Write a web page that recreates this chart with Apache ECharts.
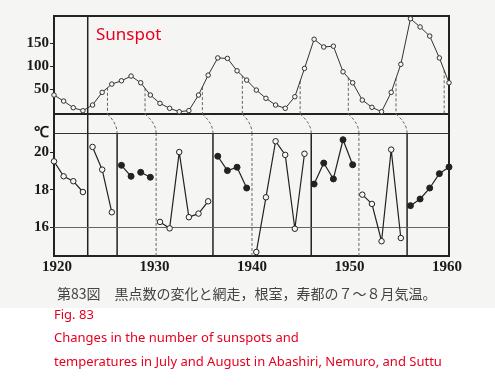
<!DOCTYPE html>
<html><head><meta charset="utf-8">
<script src="https://cdn.jsdelivr.net/npm/echarts@6/dist/echarts.min.js"></script>
<style>html,body{margin:0;padding:0;background:#fff}#c{width:495px;height:391px}</style>
</head><body><div id="c"></div>
<script>
// ---- data ----
const years = [1920,1921,1922,1923,1924,1925,1926,1927,1928,1929,1930,1931,1932,1933,1934,1935,1936,1937,1938,1939,1940,1941,1942,1943,1944,1945,1946,1947,1948,1949,1950,1951,1952,1953,1954,1955,1956,1957,1958,1959,1960,1961];
const sunspots = [36.6,23.4,8.8,2.2,14.7,42.5,60.6,67.9,78.2,63.5,36.6,18.4,7.5,0,2.5,36.6,80.3,118,117,89.8,69.4,47.5,29.4,14.7,7.5,32.9,95,159,142,143.8,87.6,63.5,25.6,9.7,0,42.5,104,204,186,166,118,63.5];
const temps = [19.50,18.71,18.45,17.88,20.26,19.06,16.81,19.29,18.71,18.92,18.66,16.30,15.96,19.99,16.55,16.74,17.39,19.77,19.01,19.19,18.09,14.71,17.60,20.56,19.84,15.94,19.90,18.30,19.41,18.57,20.64,19.32,17.74,17.25,15.28,20.12,15.45,17.16,17.51,18.09,18.85,19.20];
const segmentStarts = [1920,1924,1927,1929,1931,1937,1941,1947,1952,1957];
const segmentFilled = [false,false,true,true,false,true,false,true,false,true];
const dividerTop = [1923.5,1925.55,1929.45,1935.4,1939.55,1945.55,1950.55,1955.5,1960.5];
const dividerBottom = [1923.5,1926.55,1930.6,1936.5,1940.55,1946.7,1951.65,1956.65,null];
const dividerDashed = [false,false,true,false,true,false,true,false,true];
const sunspotTicks = [50,100,150];
const tempTicks = [16,18,20];
const yearLabels = [1920,1930,1940,1950,1960];
const caption = '第83図　黒点数の変化と網走，根室，寿都の７～８月気温。';
const redLines = ['Fig. 83','Changes in the number of sunspots and','temperatures in July and August in Abashiri, Nemuro, and Suttu'];

const chart = echarts.init(document.getElementById('c'), null, {renderer:'canvas'});
const ink = '#222';
const numFont = {fontFamily:'Liberation Serif', fontSize:15, fontWeight:'bold', color:'#1a1a1a'};

function interpSun(x){
  const i = Math.floor(x - years[0]);
  const f = x - years[0] - i;
  return sunspots[i] + (sunspots[Math.min(i+1, sunspots.length-1)] - sunspots[i]) * f;
}

const series = [];
// sunspot curve
series.push({
  type:'line', xAxisIndex:0, yAxisIndex:0,
  data: years.map((y,i)=>[y, sunspots[i]]),
  symbol:'circle', symbolSize:4.5, showAllSymbol:true,
  itemStyle:{color:'#f6f6f4', borderColor:'#333', borderWidth:1},
  lineStyle:{color:'#333', width:1}, z:5
});
// temperature segments
segmentStarts.forEach((s, k)=>{
  const e = k < segmentStarts.length-1 ? segmentStarts[k+1] : years[years.length-1]+1;
  const data = [];
  years.forEach((y,i)=>{ if (y>=s && y<e) data.push([y, temps[i]]); });
  const filled = segmentFilled[k];
  series.push({
    type:'line', xAxisIndex:1, yAxisIndex:1, data,
    symbol:'circle', symbolSize: filled ? 6 : 5.5, showAllSymbol:true,
    itemStyle:{color: filled ? '#222' : '#f6f6f4', borderColor:'#222', borderWidth:1},
    lineStyle:{color:'#222', width:1.2}, z:5
  });
});
// dividers
dividerTop.forEach((xt, k)=>{
  const xb = dividerBottom[k];
  const first = k === 0;
  series.push({
    type:'line', xAxisIndex:0, yAxisIndex:0, silent:true, symbol:'none',
    data: [[xt, first ? 210 : interpSun(xt)], [xt, -5]],
    lineStyle:{color: first ? '#222' : '#666', width: first ? 1.5 : 1, type: first ? 'solid' : [3,2]}, z:3
  });
  if (xb === null) return;
  const bend = [];
  for (let i=0;i<=10;i++){
    const t = i/10;
    bend.push([xt + (xb-xt)*(1-(1-t)*(1-t)), 22 - t]);
  }
  series.push({
    type:'line', xAxisIndex:1, yAxisIndex:1, silent:true, symbol:'none', data: bend,
    lineStyle:{color: first ? '#222' : '#666', width: first ? 1.5 : 1, type: first ? 'solid' : [3,2]}, z:3
  });
  const dashed = dividerDashed[k];
  series.push({
    type:'line', xAxisIndex:1, yAxisIndex:1, silent:true, symbol:'none',
    data: [[xb, 21], [xb, 14.5]],
    lineStyle:{color: dashed ? '#666' : '#222', width: dashed ? 1 : 1.5, type: dashed ? [3,2] : 'solid'}, z:3
  });
});
// reference horizontals in temperature panel
series.push({
  type:'line', xAxisIndex:1, yAxisIndex:1, data:[], silent:true,
  markLine:{silent:true, symbol:'none', label:{show:false},
    data:[{yAxis:21, lineStyle:{color:'#333', width:1, type:'solid'}},
          {yAxis:16, lineStyle:{color:'#666', width:1, type:'solid'}}]}
});

const option = {
  animation:false,
  backgroundColor:'transparent',
  grid:[
    {left:54, width:395, top:16, height:98, show:true, borderColor:ink, borderWidth:2, backgroundColor:'transparent'},
    {left:54, width:395, top:114, height:142, show:true, borderColor:ink, borderWidth:2, backgroundColor:'transparent'}
  ],
  xAxis:[
    {type:'value', gridIndex:0, min:1920, max:1961, show:false},
    {type:'value', gridIndex:1, min:1920, max:1961, show:false},
    {type:'value', gridIndex:1, min:1919.7, max:1960.2, position:'bottom',
     axisLine:{show:false}, axisTick:{show:false}, splitLine:{show:false},
     axisLabel:{customValues:yearLabels, margin:4, ...numFont, formatter:v=>String(v)}}
  ],
  yAxis:[
    {type:'value', gridIndex:0, min:-5, max:210,
     axisLine:{show:false}, splitLine:{show:false},
     axisTick:{show:true, customValues:sunspotTicks, length:4, lineStyle:{color:ink}},
     axisLabel:{customValues:sunspotTicks, margin:5, ...numFont, formatter:v=>String(v)}},
    {type:'value', gridIndex:1, min:14.5, max:22,
     axisLine:{show:false}, splitLine:{show:false},
     axisTick:{show:true, customValues:tempTicks, length:4, lineStyle:{color:ink}},
     axisLabel:{customValues:tempTicks.concat([21]), margin:5, ...numFont,
       formatter:v=> v===21 ? '℃' : String(v)}}
  ],
  graphic:[
    {type:'rect', z:-10, shape:{x:0,y:0,width:495,height:308}, style:{fill:'#f5f5f3'}},
    {type:'text', left:96, top:27, style:{text:'Sunspot', font:'17px "Noto Sans"', fill:'#e60020'}},
    {type:'text', left:57, top:287, style:{text:caption, font:'14px "Noto Sans CJK JP"', fill:'#444'}},
    {type:'text', left:54, top:309, style:{text:redLines[0], font:'13px "Noto Sans"', fill:'#e60020'}},
    {type:'text', left:54, top:332, style:{text:redLines[1], font:'13px "Noto Sans"', fill:'#e60020'}},
    {type:'text', left:54, top:356, style:{text:redLines[2], font:'13px "Noto Sans"', fill:'#e60020'}}
  ],
  series
};
chart.setOption(option);
</script></body></html>
